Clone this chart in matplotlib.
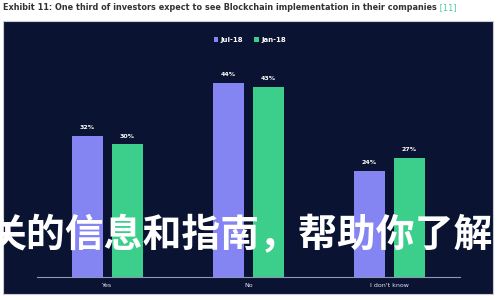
import matplotlib
matplotlib.use("Agg")
import matplotlib.pyplot as plt
from matplotlib.patches import Rectangle
import numpy as np

categories = ["Yes", "No", "I don't know"]
series_names = ["Jul-18", "Jan-18"]
jul18 = [32, 44, 24]
jan18 = [30, 43, 27]

title = "Exhibit 11: One third of investors expect to see Blockchain implementation in their companies"
ref_tag = "[11]"
overlay = "关的信息和指南，帮助你了解"

NAVY = "#0a1331"
PURPLE = "#8484f2"
GREEN = "#3ccf8c"
AXIS = "#8f97b5"

W, H = 500, 300
fig = plt.figure(figsize=(5, 3), dpi=100, facecolor="white")

def fx(px):
    return px / W

def fy(py):
    return 1 - py / H

# dark panel behind the chart
panel = Rectangle((fx(3), fy(294)), fx(490), (294 - 21) / H,
                  transform=fig.transFigure, facecolor=NAVY,
                  edgecolor="#c9ccd6", linewidth=0.8, zorder=-5)
fig.patches.append(panel)

# plot area
ax_left, ax_right = 37, 460
ax_bottom, ax_top = 277, 56
ax = fig.add_axes([fx(ax_left), fy(ax_bottom), (ax_right - ax_left) / W,
                   (ax_bottom - ax_top) / H])
ax.set_zorder(1)
ax.set_facecolor("none")
ax.set_xlim(-0.5, 2.5)
ax.set_ylim(0, 50)

x = np.arange(len(categories))
bw = 0.22
off = 0.142
b1 = ax.bar(x - off, jul18, bw, color=PURPLE, label=series_names[0], zorder=2)
b2 = ax.bar(x + off, jan18, bw, color=GREEN, label=series_names[1], zorder=2)

for bars, vals in ((b1, jul18), (b2, jan18)):
    for rect, v in zip(bars, vals):
        ax.annotate(f"{v}%", (rect.get_x() + rect.get_width() / 2, v),
                    xytext=(0, 4), textcoords="offset points",
                    ha="center", va="bottom", color="white",
                    fontsize=4.5, fontweight="bold")

for s in ("top", "right", "left"):
    ax.spines[s].set_visible(False)
ax.spines["bottom"].set_color(AXIS)
ax.spines["bottom"].set_linewidth(0.8)
ax.set_yticks([])
ax.set_xticks(x)
ax.set_xticklabels(categories, color="#e6e8f0", fontsize=4.5)
ax.tick_params(axis="x", length=0, pad=4)

leg = fig.legend(handles=[b1, b2], labels=series_names, loc="center",
                 bbox_to_anchor=(0.5, fy(40)), ncol=2, frameon=False,
                 fontsize=5, labelcolor="white", handlelength=0.6,
                 handleheight=0.6, handletextpad=0.4, columnspacing=1.6)
leg.set_zorder(2)
for t in leg.get_texts():
    t.set_fontweight("bold")

# title with coloured reference tag
t = fig.text(fx(3), fy(8), title, ha="left", va="center",
             fontsize=5.9, fontweight="bold", color="#333333")
ax.annotate(" " + ref_tag, xy=(1, 0.5), xycoords=t, ha="left", va="center",
            fontsize=5.9, color="#4fc3a8", annotation_clip=False)

# overlaid caption
fig.text(fx(-12), fy(236), overlay, ha="left", va="center",
         fontsize=28, fontweight="bold", color="white",
         family=["Noto Sans CJK SC", "DejaVu Sans"], zorder=10)

fig.savefig("out.png", dpi=100, facecolor="white")
